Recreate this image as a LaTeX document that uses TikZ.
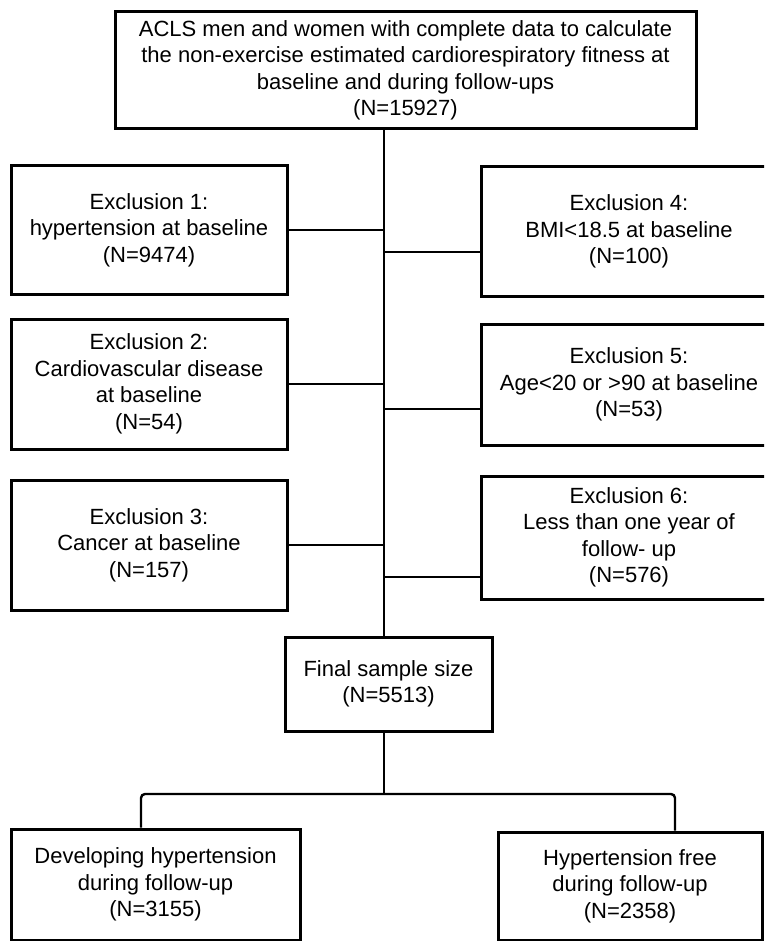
\documentclass[tikz,border=0pt]{standalone}
\usepackage{fontspec}
\setmainfont{Liberation Sans}
\begin{document}
\begin{tikzpicture}[x=1pt,y=-1pt,
  box/.style={draw=black, line width=3pt, inner sep=0pt, align=center,
    font=\fontsize{22}{26.5}\selectfont},
  conn/.style={draw=black, line width=2.4pt}]
\useasboundingbox (0,0) rectangle (764,941);
\fill[white] (0,0) rectangle (764,941);
\begin{scope}
\clip (0,0) rectangle (764,941);
\node[box, minimum width=581pt, minimum height=117pt] (top) at (405.5,70.5)
  {ACLS men and women with complete data to calculate\\the non-exercise estimated cardiorespiratory fitness at\\baseline and during follow-ups\\(N=15927)};
\node[box, minimum width=276pt, minimum height=128pt] (ex1) at (149,230)
  {Exclusion 1:\\hypertension at baseline\\(N=9474)};
\node[box, minimum width=276pt, minimum height=130pt] (ex2) at (149,384)
  {Exclusion 2:\\Cardiovascular disease\\at baseline\\(N=54)};
\node[box, minimum width=276pt, minimum height=130pt] (ex3) at (149,545)
  {Exclusion 3:\\Cancer at baseline\\(N=157)};
\node[box, minimum width=296pt, minimum height=129pt] (ex4) at (629,231.5)
  {Exclusion 4:\\BMI<18.5 at baseline\\(N=100)};
\node[box, minimum width=296pt, minimum height=121pt] (ex5) at (629,384.5)
  {Exclusion 5:\\Age<20 or >90 at baseline\\(N=53)};
\node[box, minimum width=296pt, minimum height=123pt] (ex6) at (629,537.5)
  {Exclusion 6:\\Less than one year of\\follow- up\\(N=576)};
\node[box, minimum width=207pt, minimum height=94pt] (final) at (388.5,684)
  {Final sample size\\(N=5513)};
\node[box, minimum width=289pt, minimum height=111pt] (dev) at (155.5,884.5)
  {Developing hypertension\\during follow-up\\(N=3155)};
\node[box, minimum width=264pt, minimum height=108pt] (free) at (630,886)
  {Hypertension free\\during follow-up\\(N=2358)};

\coordinate (spine) at (384,0);
\coordinate (br) at (384,794);
\coordinate (dl) at (141,794);
\coordinate (dr) at (675,794);

\draw[conn] (top.south -| spine) -- (final.north -| spine);
\draw[conn] (ex1.east) -- (ex1.east -| spine);
\draw[conn] (ex2.east) -- (ex2.east -| spine);
\draw[conn] (ex3.east) -- (ex3.east -| spine);
\draw[conn] ([yshift=-20.5pt]ex4.west) -- ([yshift=-20.5pt]ex4.west -| spine);
\draw[conn] ([yshift=-24.5pt]ex5.west) -- ([yshift=-24.5pt]ex5.west -| spine);
\draw[conn] ([yshift=-39.5pt]ex6.west) -- ([yshift=-39.5pt]ex6.west -| spine);
\draw[conn] (final.south -| spine) -- (br);
\draw[conn, rounded corners=4pt] (dl |- dev.north) -- (dl) -- (dr) -- (dr |- free.north);
\end{scope}
\end{tikzpicture}
\end{document}
